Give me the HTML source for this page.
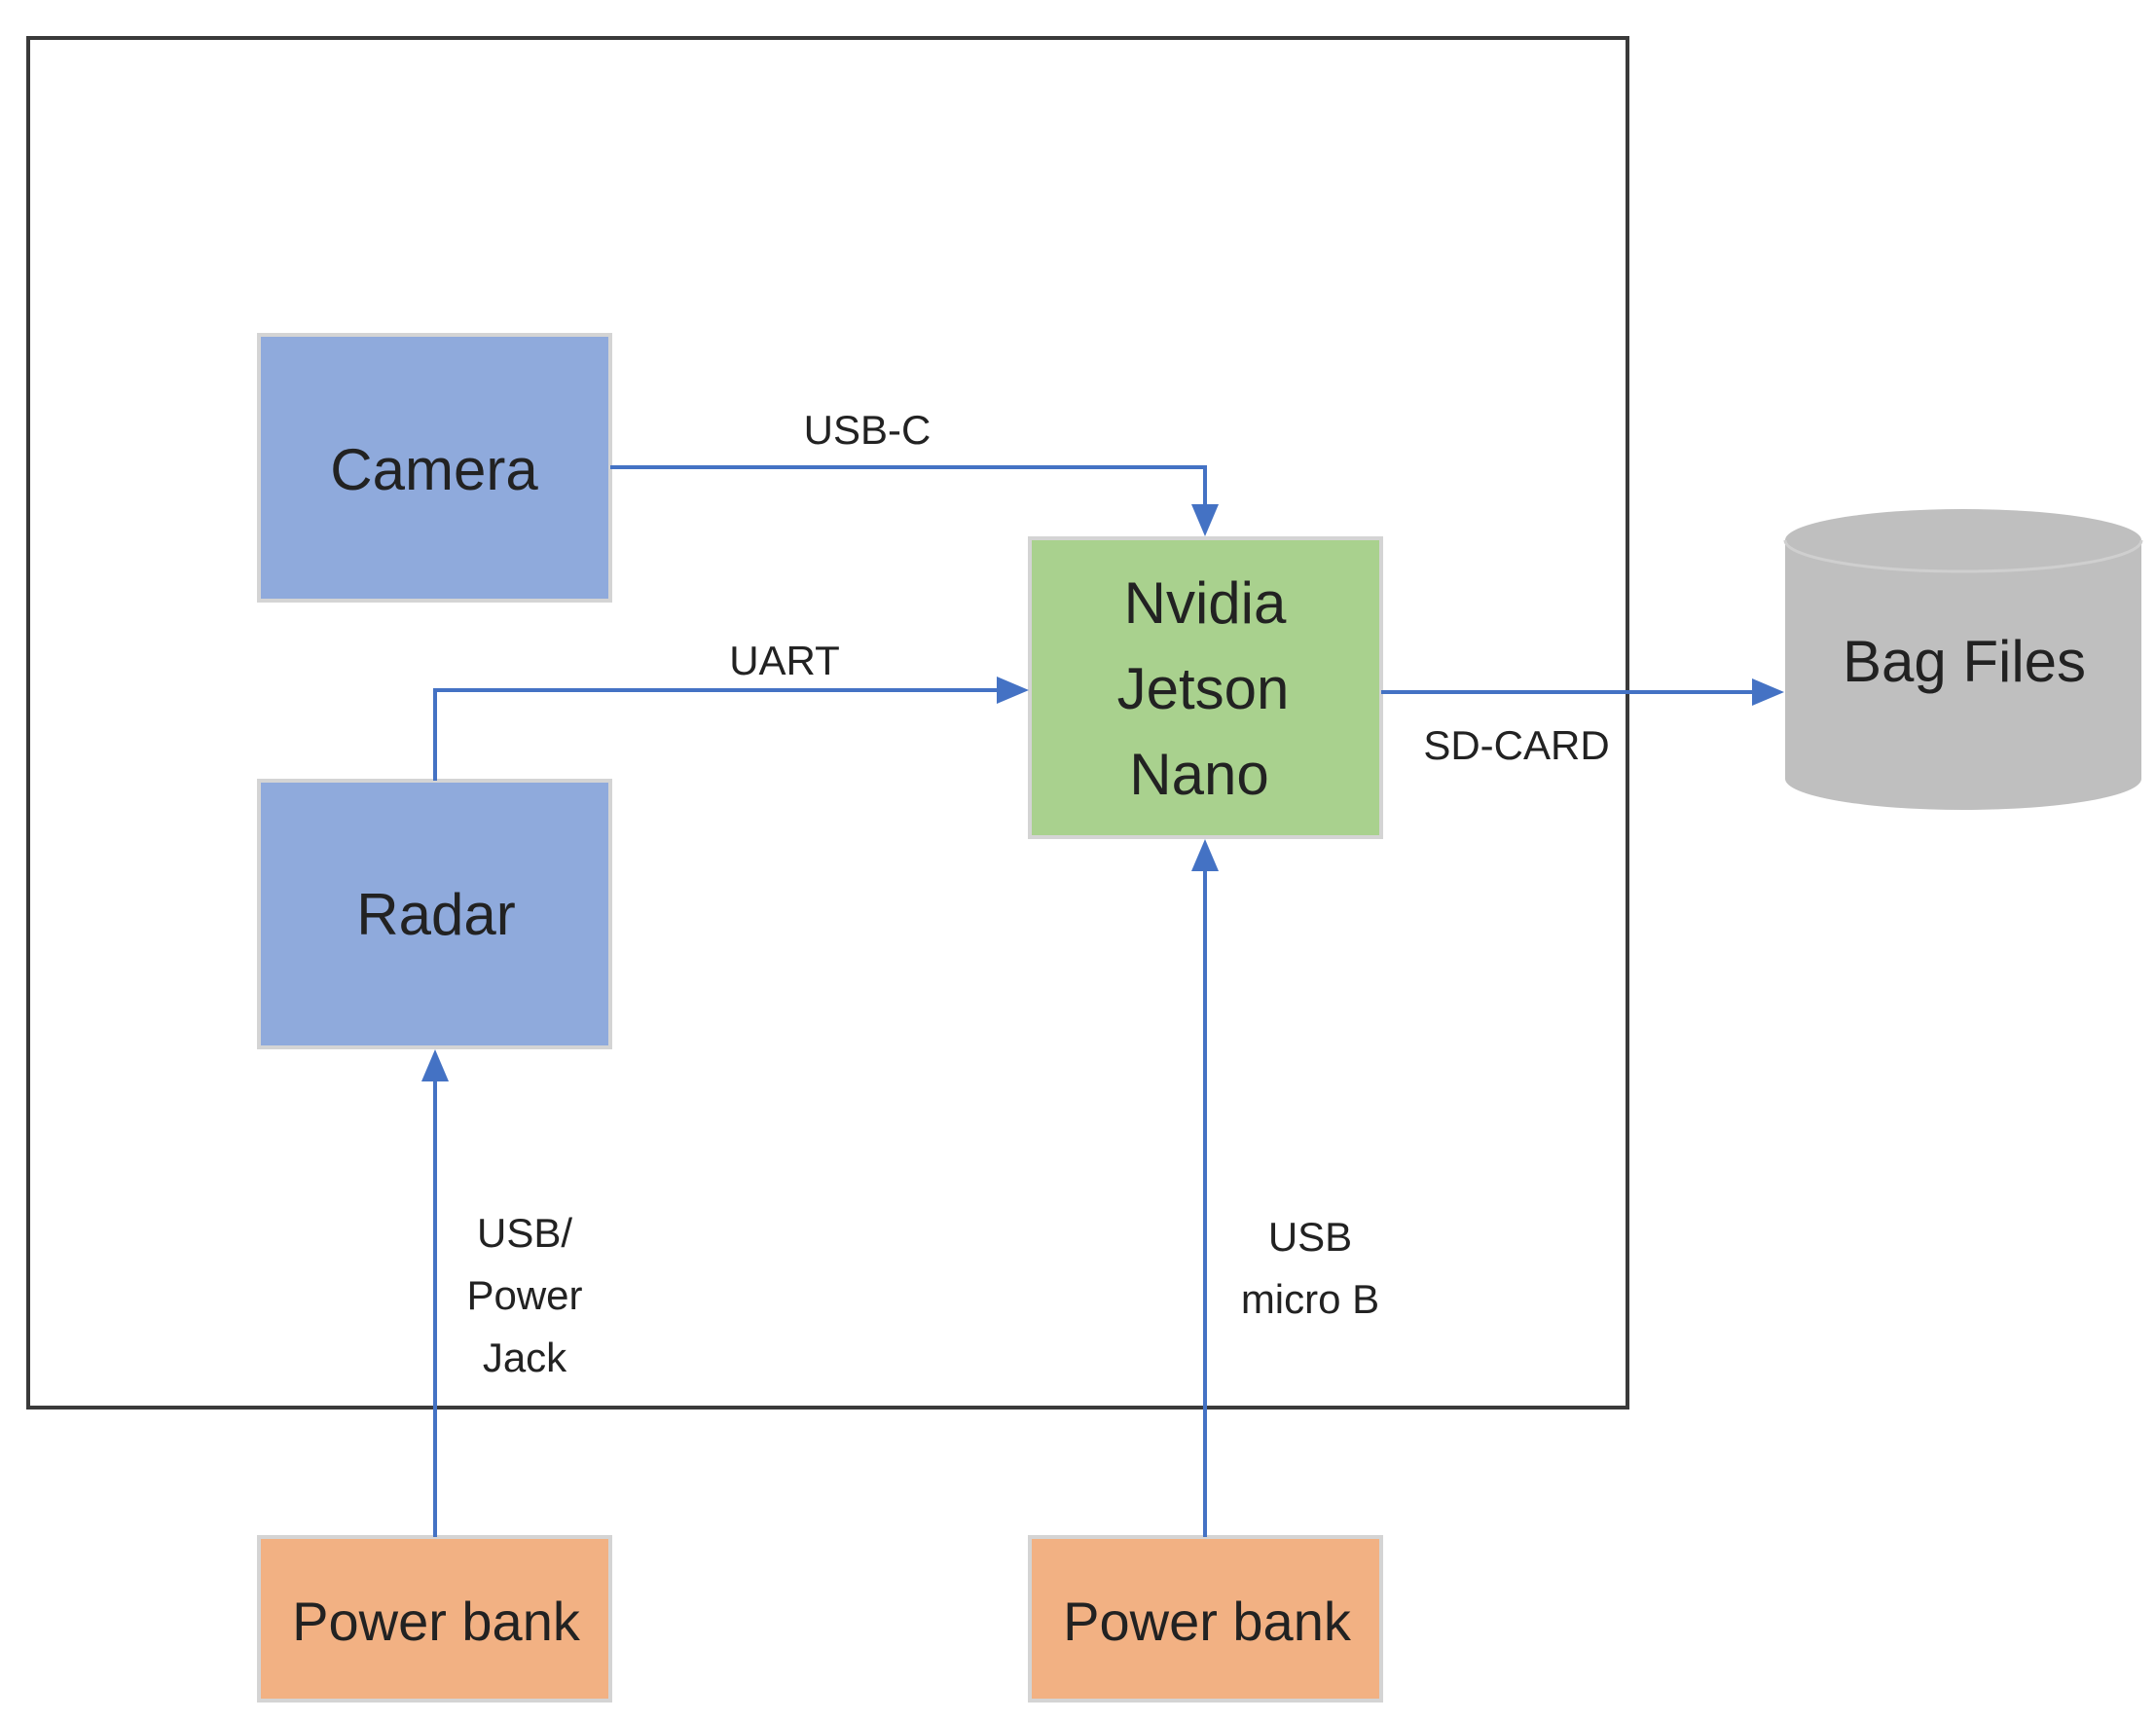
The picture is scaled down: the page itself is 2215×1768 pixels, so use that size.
<!DOCTYPE html>
<html><head><meta charset="utf-8"><style>
html,body{margin:0;padding:0;background:#fff;}
svg{display:block;}
text{font-family:"Liberation Sans",sans-serif;fill:#222;}
</style></head><body>
<svg width="2215" height="1768" viewBox="0 0 2215 1768" xmlns="http://www.w3.org/2000/svg">
<rect x="29" y="39" width="1643" height="1407" fill="none" stroke="#3a3a3a" stroke-width="4"/>
<!-- boxes -->
<rect x="266" y="344" width="361" height="273" fill="#8faadc" stroke="#d4d4d4" stroke-width="4"/>
<rect x="266" y="802" width="361" height="274" fill="#8faadc" stroke="#d4d4d4" stroke-width="4"/>
<rect x="1058" y="553" width="361" height="307" fill="#a9d18e" stroke="#d4d4d4" stroke-width="4"/>
<rect x="266" y="1579" width="361" height="168" fill="#f2b183" stroke="#d4d4d4" stroke-width="4"/>
<rect x="1058" y="1579" width="361" height="168" fill="#f2b183" stroke="#d4d4d4" stroke-width="4"/>
<!-- cylinder -->
<path d="M1834,555 L1834,800 A183,32 0 0 0 2200,800 L2200,555 A183,32 0 0 0 1834,555 z" fill="#bfbfbf"/>
<path d="M1834,555 A183,32 0 0 0 2200,555" fill="none" stroke="#cfcfcf" stroke-width="3"/>
<!-- connectors -->
<g fill="none" stroke="#4472c4" stroke-width="4">
<path d="M627,480 L1238,480 L1238,525"/>
<path d="M447,802 L447,709 L1030,709"/>
<path d="M1419,711 L1806,711"/>
<path d="M447,1579 L447,1106"/>
<path d="M1238,1579 L1238,890"/>
</g>
<g fill="#4472c4">
<polygon points="1224,518 1252,518 1238,551"/>
<polygon points="1024,695 1024,723 1057,709"/>
<polygon points="1800,697 1800,725 1833,711"/>
<polygon points="433,1111 461,1111 447,1078"/>
<polygon points="1224,895 1252,895 1238,862"/>
</g>
<!-- box text -->
<g font-size="60" text-anchor="middle">
<text x="446" y="503">Camera</text>
<text x="448" y="960">Radar</text>
<text x="1238" y="640">Nvidia</text>
<text x="1236" y="728">Jetson</text>
<text x="1232" y="816">Nano</text>
<text x="2018" y="700">Bag Files</text>
<text x="448" y="1685" font-size="56">Power bank</text>
<text x="1240" y="1685" font-size="56">Power bank</text>
</g>
<g font-size="42" text-anchor="middle">
<text x="891" y="456">USB-C</text>
<text x="806" y="693">UART</text>
<text x="1558" y="780">SD-CARD</text>
<text x="539" y="1281">USB/</text>
<text x="539" y="1345">Power</text>
<text x="539" y="1409">Jack</text>
<text x="1346" y="1285">USB</text>
<text x="1346" y="1349">micro B</text>
</g>
</svg>
</body></html>
